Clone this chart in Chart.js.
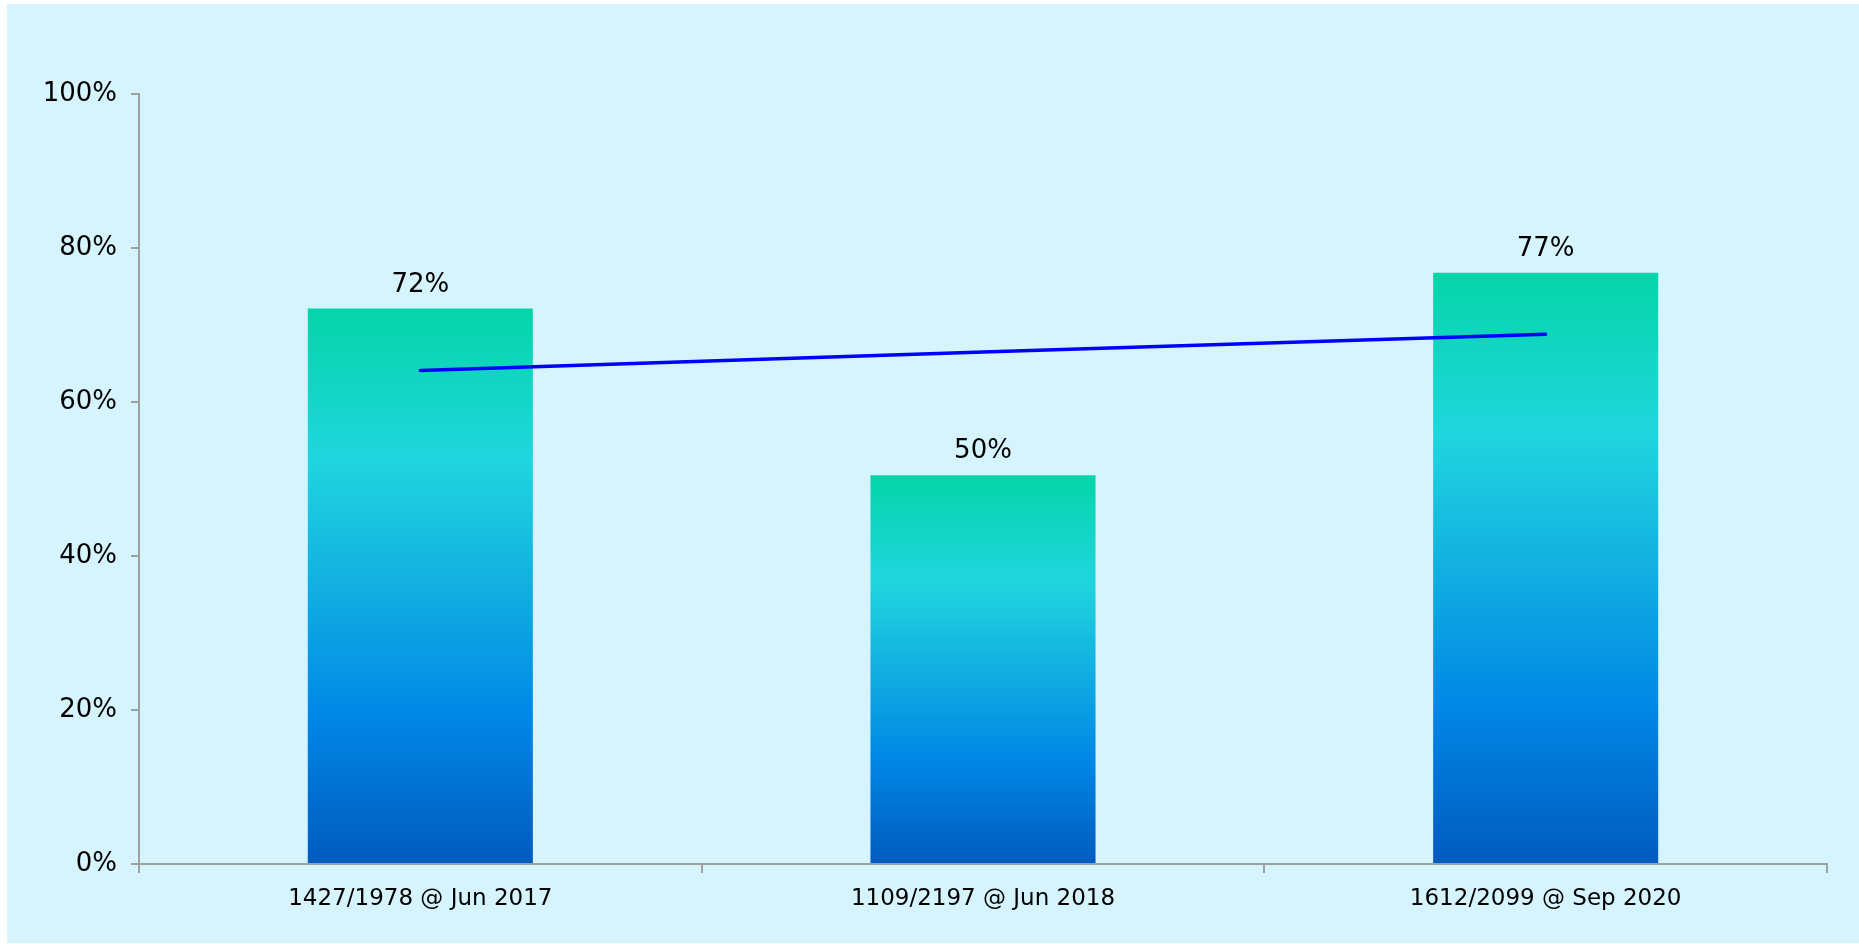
<!DOCTYPE html>
<html>
<head>
<meta charset="utf-8">
<script src="https://cdn.jsdelivr.net/npm/chart.js@4/dist/chart.umd.min.js"></script>
<style>
    html, body { margin: 0; padding: 0; background: #ffffff; }
    #wrap { position: absolute; left: 7px; top: 4px; width: 1852px; height: 939px; background: #D6F4FE; }
    #chart { display: block; }
</style>
</head>
<body>
<div id="wrap"><canvas id="chart" width="1852" height="939"></canvas></div>
<script>
// data
const categories = ['1427/1978 @ Jun 2017', '1109/2197 @ Jun 2018', '1612/2099 @ Sep 2020'];
const shares = [72.14, 50.48, 76.80];
const trend = [64.1, 66.5, 68.8];
const yTicks = [0, 20, 40, 60, 80, 100];

const axisGrey = '#A0A0A0';

// per-bar vertical gradient, green at the top down to dark blue at the base
function barFill(ctx) {
    const chart = ctx.chart;
    if (!chart.chartArea || ctx.type !== 'data') return '#0A9EE0';
    const y = chart.scales.y;
    const top = y.getPixelForValue(ctx.raw);
    const base = y.getPixelForValue(0);
    const g = chart.ctx.createLinearGradient(0, top, 0, base);
    g.addColorStop(0, '#04D5A8');
    g.addColorStop(0.27, '#20D6DE');
    g.addColorStop(0.5, '#12AFE1');
    g.addColorStop(0.73, '#0088E6');
    g.addColorStop(1, '#005BBE');
    return g;
}

// percentage labels above the bars
const barLabels = {
    id: 'barLabels',
    afterDatasetsDraw(chart) {
        const meta = chart.getDatasetMeta(1);
        const c = chart.ctx;
        c.save();
        c.font = '26px "DejaVu Sans"';
        c.fillStyle = '#000000';
        c.textAlign = 'center';
        c.textBaseline = 'alphabetic';
        meta.data.forEach((bar, i) => {
            c.fillText(Math.round(shares[i]) + '%', bar.x, bar.y - 17);
        });
        c.restore();
    }
};

new Chart(document.getElementById('chart'), {
    type: 'bar',
    data: {
        labels: categories,
        datasets: [{
            type: 'line',
            data: trend,
            borderColor: '#0000FF',
            borderWidth: 3.5,
            borderCapStyle: 'round',
            pointRadius: 0,
            fill: false,
            tension: 0,
            order: 0
        }, {
            type: 'bar',
            data: shares,
            backgroundColor: barFill,
            borderWidth: 0,
            barPercentage: 0.4,
            categoryPercentage: 1,
            order: 1
        }]
    },
    options: {
        responsive: false,
        animation: false,
        layout: { padding: { top: 90, right: 32, left: 0, bottom: 0 } },
        plugins: {
            legend: { display: false },
            tooltip: { enabled: false }
        },
        scales: {
            x: {
                grid: {
                    offset: true,
                    drawOnChartArea: false,
                    drawTicks: true,
                    tickLength: 9,
                    color: axisGrey,
                    lineWidth: 2
                },
                border: { color: axisGrey, width: 2 },
                ticks: {
                    color: '#000000',
                    padding: 12,
                    font: { family: '"DejaVu Sans"', size: 23 }
                },
                afterFit(scale) { scale.height = 79; }
            },
            y: {
                min: 0,
                max: 100,
                afterBuildTicks(scale) { scale.ticks = yTicks.map(v => ({ value: v })); },
                grid: {
                    drawOnChartArea: false,
                    drawTicks: true,
                    tickLength: 8,
                    color: axisGrey,
                    lineWidth: 2
                },
                border: { color: axisGrey, width: 2 },
                ticks: {
                    color: '#000000',
                    padding: 14,
                    font: { family: '"DejaVu Sans"', size: 26 },
                    callback: v => v + '%'
                },
                afterFit(scale) { scale.width = 132; }
            }
        }
    },
    plugins: [barLabels]
});
</script>
</body>
</html>
